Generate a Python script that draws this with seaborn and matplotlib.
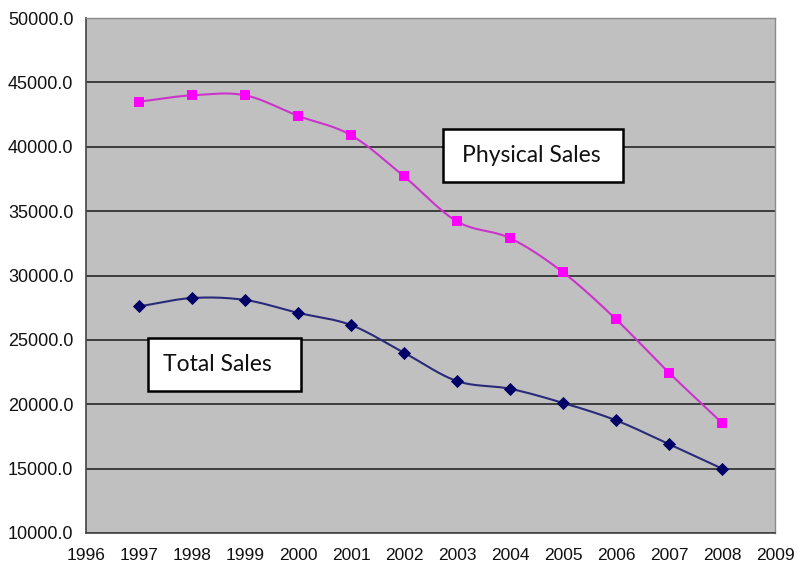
import numpy as np
import pandas as pd
import matplotlib
matplotlib.use("Agg")
import matplotlib.pyplot as plt
import seaborn as sns
from matplotlib.patches import Rectangle

years = [1997, 1998, 1999, 2000, 2001, 2002, 2003, 2004, 2005, 2006, 2007, 2008]
physical_sales = [43500, 44000, 44000, 42400, 40900, 37700, 34200, 32900, 30250, 26600, 22450, 18550]
total_sales = [27600, 28250, 28100, 27100, 26150, 24000, 21800, 21200, 20100, 18750, 16900, 15000]
y_ticks = [10000, 15000, 20000, 25000, 30000, 35000, 40000, 45000, 50000]
x_ticks = list(range(1996, 2010))


def smooth(xs, ys, n=20):
    # Catmull-Rom style smoothing for the line rendering (like Excel "smoothed line")
    xs = np.asarray(xs, float)
    ys = np.asarray(ys, float)
    px = np.concatenate([[2 * xs[0] - xs[1]], xs, [2 * xs[-1] - xs[-2]]])
    py = np.concatenate([[2 * ys[0] - ys[1]], ys, [2 * ys[-1] - ys[-2]]])
    ox, oy = [], []
    for i in range(1, len(px) - 2):
        t = np.linspace(0, 1, n, endpoint=False)
        for arr, out in ((px, ox), (py, oy)):
            p0, p1, p2, p3 = arr[i - 1], arr[i], arr[i + 1], arr[i + 2]
            out.extend(0.5 * ((2 * p1) + (-p0 + p2) * t
                              + (2 * p0 - 5 * p1 + 4 * p2 - p3) * t ** 2
                              + (-p0 + 3 * p1 - 3 * p2 + p3) * t ** 3))
    ox.append(xs[-1])
    oy.append(ys[-1])
    return np.array(ox), np.array(oy)


sns.set_theme(style="white")
plt.rcParams['font.family'] = ['Liberation Sans', 'DejaVu Sans']

fig = plt.figure(figsize=(8.09, 5.76), dpi=100)
ax = fig.add_axes([0.1063, 0.0747, 0.8517, 0.894])
ax.set_facecolor('#c0c0c0')

df = pd.DataFrame({"year": years, "Physical Sales": physical_sales, "Total Sales": total_sales})

sx, sy = smooth(years, physical_sales)
sns.lineplot(x=sx, y=sy, ax=ax, color='#cc33cc', linewidth=1.5, sort=False, zorder=3)
sns.scatterplot(data=df, x="year", y="Physical Sales", ax=ax, marker='s', s=55,
                color='#ff00ff', edgecolor='#ff00ff', linewidth=0, zorder=4)

sx, sy = smooth(years, total_sales)
sns.lineplot(x=sx, y=sy, ax=ax, color='#2a2a7a', linewidth=1.5, sort=False, zorder=3)
sns.scatterplot(data=df, x="year", y="Total Sales", ax=ax, marker='D', s=45,
                color='#000066', edgecolor='#000066', linewidth=0, zorder=4)

ax.set_xlim(1996, 2009)
ax.set_ylim(10000, 50000)
ax.set_xticks(x_ticks)
ax.set_xticklabels([str(x) for x in x_ticks])
ax.set_yticks(y_ticks)
ax.set_yticklabels([f"{v:.1f}" for v in y_ticks])
ax.yaxis.grid(True, color='#1a1a1a', linewidth=1.1)
ax.set_axisbelow(True)
ax.set_xlabel("")
ax.set_ylabel("")
ax.tick_params(axis='both', which='both', direction='out', length=5, width=1,
               color='#333333', labelcolor='#111111')
ax.tick_params(axis='x', pad=6, labelsize=12.5)
ax.tick_params(axis='y', pad=4, labelsize=13)
for side in ['left', 'bottom']:
    ax.spines[side].set_color('#444444')
    ax.spines[side].set_linewidth(1.2)
for side in ['top', 'right']:
    ax.spines[side].set_color('#8a8a8a')
    ax.spines[side].set_linewidth(1.0)

# annotation boxes
for (x0, y0, w, h, label, tx) in [(0.518, 0.6816, 0.261, 0.1029, "Physical Sales", 0.545),
                                   (0.090, 0.2757, 0.222, 0.1029, "Total Sales", 0.112)]:
    ax.add_patch(Rectangle((x0, y0), w, h, transform=ax.transAxes, facecolor='white',
                           edgecolor='black', linewidth=1.8, zorder=5))
    ax.text(tx, y0 + h / 2, label, transform=ax.transAxes, ha='left', va='center',
            fontsize=16.5, color='#111111', family=['Lato', 'DejaVu Sans'], zorder=6)

fig.savefig("out.png", dpi=100, facecolor='white')
